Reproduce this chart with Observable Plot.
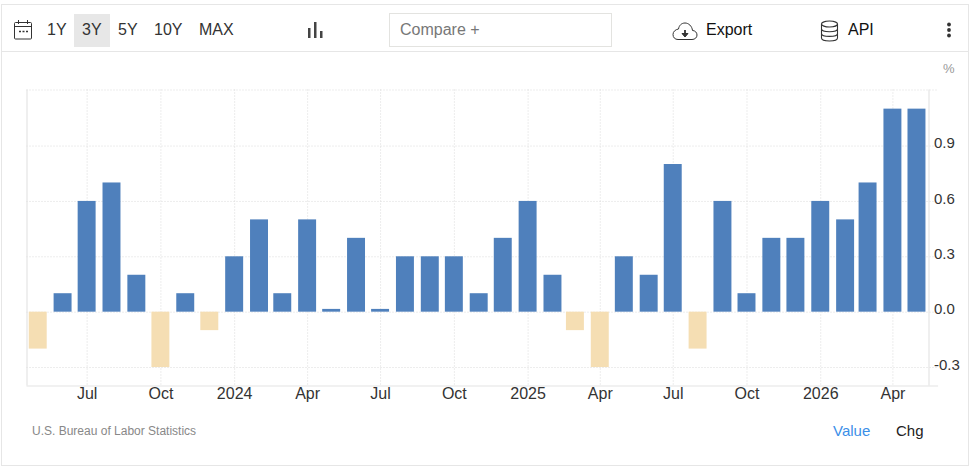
<!DOCTYPE html>
<html>
<head>
<meta charset="utf-8">
<script src="https://cdn.jsdelivr.net/npm/d3@7"></script>
<script src="https://cdn.jsdelivr.net/npm/@observablehq/plot@0.6"></script>
<style>
html,body{margin:0;padding:0;background:#fff;width:971px;height:470px;overflow:hidden;font-family:"Liberation Sans",Arial,sans-serif;}
#frame{position:absolute;left:1px;top:4px;width:966px;height:460px;border:1px solid #e6e6e6;box-sizing:content-box;}
#sep{position:absolute;left:1px;top:51px;width:967px;height:1px;background:#e6e6e6;}
.t{position:absolute;white-space:nowrap;line-height:1;}
#sel{position:absolute;left:74px;top:14px;width:36px;height:33px;background:#e7e7e7;}
#cmp{position:absolute;left:389px;top:13px;width:221px;height:32px;border:1px solid #e3e3e0;}
#chart{position:absolute;left:0;top:0;}
.ic{position:absolute;}
</style>
</head>
<body>
<div id="frame"></div>
<div id="sep"></div>
<div id="sel"></div>
<div id="cmp"></div>
<svg class="ic" style="left:13px;top:19px" width="21" height="22" viewBox="0 0 21 22" fill="none" stroke="#333" stroke-width="1"><rect x="1.5" y="3.5" width="17" height="16.5" rx="1"/><path d="M1.5 7.5H18.5M5.5 1V5M14.5 1V5"/><path d="M6 12.5H8M9.5 12.5H11.5M13 12.5H15" stroke-width="1.4"/></svg>
<span class="t" style="left:47px;top:22px;font-size:16px;color:#333">1Y</span>
<span class="t" style="left:82px;top:22px;font-size:16px;color:#333">3Y</span>
<span class="t" style="left:118px;top:22px;font-size:16px;color:#333">5Y</span>
<span class="t" style="left:154px;top:22px;font-size:16px;color:#333">10Y</span>
<span class="t" style="left:199px;top:22px;font-size:16px;color:#333">MAX</span>
<svg class="ic" style="left:307px;top:21px" width="16" height="18" viewBox="0 0 16 18" fill="#444"><rect x="1" y="7" width="2.5" height="10"/><rect x="7" y="1" width="2.5" height="16"/><rect x="13" y="10" width="2.5" height="7"/></svg>
<span class="t" style="left:400px;top:22px;font-size:16px;color:#777">Compare +</span>
<svg class="ic" style="left:672px;top:21px" width="26" height="20" viewBox="0 0 26 20" fill="none" stroke="#333" stroke-width="1"><path d="M6 18.5H20C23 18.5 25 16.5 25 14C25 11.5 23 9.5 20.5 9.5C20 5 16.5 2 13 2C9.5 2 7 4.5 6.5 8C3.5 8.500 1 10.5 1 13.5C1 16.500 3 18.5 6 18.5Z"/><path d="M13 9V14" stroke-width="1.8"/><path d="M10 12.500L13 16L16 12.500Z" fill="#333"/></svg>
<span class="t" style="left:706px;top:22px;font-size:16px;color:#111">Export</span>
<svg class="ic" style="left:820px;top:20px" width="19" height="22" viewBox="0 0 19 22" fill="none" stroke="#333" stroke-width="1.100"><ellipse cx="9.500" cy="4" rx="8" ry="3"/><path d="M1.500 4V18C1.500 20 5 21 9.500 21C14 21 17.500 20 17.500 18V4M1.500 8.700C1.500 10.700 5 11.700 9.500 11.700C14 11.700 17.500 10.700 17.500 8.700M1.500 13.400C1.500 15.400 5 16.400 9.500 16.400C14 16.400 17.500 15.400 17.500 13.400"/></svg>
<span class="t" style="left:848px;top:22px;font-size:16px;color:#111">API</span>
<svg class="ic" style="left:945px;top:22px" width="8" height="16" viewBox="0 0 8 16" fill="#333"><circle cx="4" cy="2.500" r="1.900"/><circle cx="4" cy="8" r="1.900"/><circle cx="4" cy="13.500" r="1.900"/></svg>
<span class="t" style="left:943px;top:62px;font-size:13px;color:#999">%</span>
<div id="chart"></div>
<span class="t" style="left:32px;top:425px;font-size:12px;color:#888">U.S. Bureau of Labor Statistics</span>
<span class="t" style="left:833px;top:423px;font-size:15px;color:#3b8fe8">Value</span>
<span class="t" style="left:896px;top:423px;font-size:15px;color:#222">Chg</span>
<script>
const months = ["2023-05","2023-06","2023-07","2023-08","2023-09","2023-10","2023-11","2023-12",
  "2024-01","2024-02","2024-03","2024-04","2024-05","2024-06","2024-07","2024-08","2024-09","2024-10","2024-11","2024-12",
  "2025-01","2025-02","2025-03","2025-04","2025-05","2025-06","2025-07","2025-08","2025-09","2025-10","2025-11","2025-12",
  "2026-01","2026-02","2026-03","2026-04","2026-05"];
const values = [-0.2,0.1,0.6,0.7,0.2,-0.3,0.1,-0.1,
  0.3,0.5,0.1,0.5,0.015,0.4,0.015,0.3,0.3,0.3,0.1,0.4,
  0.6,0.2,-0.1,-0.3,0.3,0.2,0.8,-0.2,0.6,0.1,0.4,0.4,
  0.6,0.5,0.7,1.1,1.1];
const tickMonths = ["2023-07","2023-10","2024-01","2024-04","2024-07","2024-10","2025-01","2025-04","2025-07","2025-10","2026-01","2026-04"];
const tickLabels = ["Jul","Oct","2024","Apr","Jul","Oct","2025","Apr","Jul","Oct","2026","Apr"];
const yTicks = [-0.3,0,0.3,0.6,0.9];
const xDomain = ["2023-04-17","2026-05-16"];
const yDomain = [-0.4,1.2037];
const gridEnd = "2026-05-28";
const halfBarDays = 11.2;

const day = 864e5;
const parse = s => new Date(s.length === 7 ? s + "-01T00:00:00Z" : s + "T00:00:00Z");
const data = months.map((m,i) => ({date: parse(m), value: values[i]}));
const xTicks = tickMonths.map(parse);
const labelOf = new Map(xTicks.map((d,i) => [+d, tickLabels[i]]));
const gridStroke = "#dadada";
const axisStroke = "#e4e4e4";

const plot = Plot.plot({
  width: 971, height: 420,
  marginLeft: 26.5, marginRight: 42.5, marginTop: 89.5, marginBottom: 34.5,
  style: {background: "transparent", fontFamily: "'Liberation Sans',Arial,sans-serif", fontSize: "14px", overflow: "visible"},
  x: {type: "utc", domain: xDomain.map(parse)},
  y: {domain: yDomain},
  marks: [
    Plot.ruleX(xTicks, {stroke: gridStroke, strokeDasharray: "1 2"}),
    Plot.ruleY([...yTicks, yDomain[1]], {x1: parse(xDomain[0]), x2: parse(gridEnd), stroke: gridStroke, strokeDasharray: "1 2"}),
    Plot.rectY(data, {
      x1: d => new Date(+d.date - halfBarDays*day),
      x2: d => new Date(+d.date + halfBarDays*day),
      y1: 0, y2: "value",
      fill: d => d.value < 0 ? "#f5deb3" : "#4f80bc"
    }),
    Plot.ruleX([parse(xDomain[0]), parse(xDomain[1])], {stroke: axisStroke, strokeWidth: 1.2}),
    Plot.ruleY([yDomain[0]], {x1: parse(xDomain[0]), x2: parse(gridEnd), stroke: axisStroke, strokeWidth: 1.2}),
    Plot.axisX({ticks: xTicks, tickSize: 0, tickPadding: 2, fontSize: 16, tickFormat: d => labelOf.get(+d), fill: "#333", label: null, fontVariant: "normal"}),
    Plot.axisY({anchor: "right", ticks: yTicks, tickSize: 0, tickPadding: 5, dy: -2.5, fontSize: 15, tickFormat: d => d.toFixed(1), fill: "#333", label: null, fontVariant: "normal"})
  ]
});
document.getElementById("chart").appendChild(plot);
</script>
</body>
</html>
